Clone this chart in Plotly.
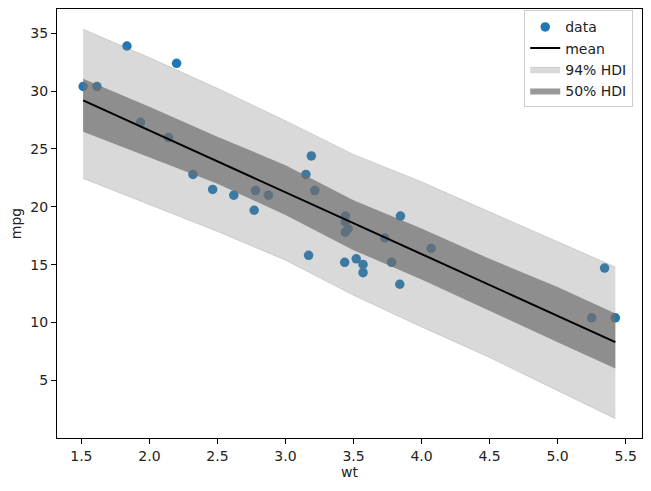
import plotly.graph_objects as go

# mtcars: weight vs mpg
wt = [2.620, 2.875, 2.320, 3.215, 3.440, 3.460, 3.570, 3.190, 3.150, 3.440,
      3.440, 4.070, 3.730, 3.780, 5.250, 5.424, 5.345, 2.200, 1.615, 1.835,
      2.465, 3.520, 3.435, 3.840, 3.845, 1.935, 2.140, 1.513, 3.170, 2.770,
      3.570, 2.780]
mpg = [21.0, 21.0, 22.8, 21.4, 18.7, 18.1, 14.3, 24.4, 22.8, 19.2,
       17.8, 16.4, 17.3, 15.2, 10.4, 10.4, 14.7, 32.4, 30.4, 33.9,
       21.5, 15.5, 15.2, 13.3, 19.2, 27.3, 26.0, 30.4, 15.8, 19.7,
       15.0, 21.4]

# bandas HDI
band_x = [1.513, 2.0, 2.5, 3.0, 3.5, 4.0, 4.5, 5.0, 5.424]
hdi94_hi = [35.35, 32.9, 30.24, 27.44, 24.53, 22.16, 19.56, 16.97, 14.8]
hdi94_lo = [22.45, 20.2, 17.87, 15.38, 12.35, 9.61, 6.96, 4.1, 1.68]
hdi50_hi = [31.07, 28.65, 26.05, 23.6, 20.57, 18.12, 15.5, 13.07, 10.77]
hdi50_lo = [26.48, 24.3, 22.0, 19.28, 16.25, 13.71, 10.97, 8.29, 6.01]

# línea media
mean_x = [1.513, 5.424]
mean_y = [29.2, 8.3]

light = 'rgba(128,128,128,0.3)'
dark = 'rgba(110,110,110,0.7)'

fig = go.Figure()

fig.add_trace(go.Scatter(
    x=wt, y=mpg, mode='markers', name='data', legendrank=1,
    marker=dict(size=9.5, color='#1f77b4')
))

# 94% HDI
fig.add_trace(go.Scatter(
    x=band_x, y=hdi94_lo, mode='lines', showlegend=False,
    line=dict(color='rgba(128,128,128,0.25)', width=1)
))
fig.add_trace(go.Scatter(
    x=band_x, y=hdi94_hi, mode='lines', fill='tonexty', fillcolor=light,
    name='94% HDI', legendrank=3,
    line=dict(color='rgba(128,128,128,0.25)', width=1)
))

# 50% HDI
fig.add_trace(go.Scatter(
    x=band_x, y=hdi50_lo, mode='lines', showlegend=False,
    line=dict(color='rgba(110,110,110,0)', width=0)
))
fig.add_trace(go.Scatter(
    x=band_x, y=hdi50_hi, mode='lines', fill='tonexty', fillcolor=dark,
    name='50% HDI', legendrank=4,
    line=dict(color='rgba(110,110,110,0)', width=0)
))

fig.add_trace(go.Scatter(
    x=mean_x, y=mean_y, mode='lines', name='mean', legendrank=2,
    line=dict(color='black', width=2)
))

axis_style = dict(
    showline=True, linecolor='black', linewidth=1, mirror=True,
    ticks='outside', ticklen=5, tickcolor='black', showgrid=False,
    zeroline=False, automargin=False, tickfont=dict(size=14, color='#222')
)

# la página tiene 8px de margen en el body
fig.update_layout(
    width=643, height=483,
    margin=dict(l=49, r=9, t=1, b=53),
    plot_bgcolor='white', paper_bgcolor='white',
    font=dict(family='DejaVu Sans', size=14, color='#222'),
    xaxis=dict(range=[1.321, 5.62], dtick=0.5, tickformat='.1f',
               title=dict(text='wt', standoff=4, font=dict(size=14)), **axis_style),
    yaxis=dict(range=[0.007, 37.1], dtick=5,
               title=dict(text='mpg', standoff=8, font=dict(size=14)), **axis_style),
    legend=dict(x=0.985, y=0.997, xanchor='right', yanchor='top',
                traceorder='normal',
                bgcolor='rgba(255,255,255,0.8)', bordercolor='#ccc', borderwidth=1,
                font=dict(size=14), tracegroupgap=0),
)

fig.write_html("out.html")
